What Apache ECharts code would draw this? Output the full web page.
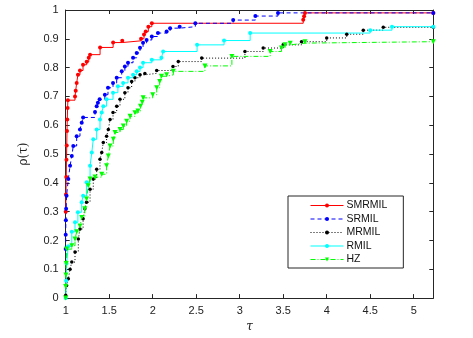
<!DOCTYPE html>
<html>
<head>
<meta charset="utf-8">
<script src="https://cdn.jsdelivr.net/npm/echarts@6/dist/echarts.min.js"></script>
<style>
  html, body { margin: 0; padding: 0; background: #fff; }
  #chart { width: 473px; height: 338px; }
</style>
</head>
<body>
<div id="chart"></div>
<script>
// performance profile data, [tau, rho]
const smrmil = [
  [1, 0.30], [1.003, 0.36], [1.006, 0.42], [1.009, 0.48], [1.012, 0.53], [1.015, 0.58],
  [1.018, 0.62], [1.022, 0.66], [1.025, 0.687], [1.107, 0.70], [1.115, 0.72], [1.126, 0.747],
  [1.141, 0.775], [1.164, 0.79], [1.199, 0.81], [1.241, 0.82], [1.265, 0.834], [1.28, 0.845],
  [1.395, 0.87], [1.545, 0.887], [1.65, 0.893], [1.866, 0.90], [1.9, 0.915], [1.92, 0.925],
  [1.95, 0.942], [1.99, 0.954], [3.73, 0.966], [3.74, 0.978], [3.75, 0.99], [5.225, 0.99]
];
const srmil = [
  [1, 0.17], [1.0, 0.22], [1.002, 0.27], [1.005, 0.31], [1.01, 0.355], [1.03, 0.413],
  [1.05, 0.459], [1.07, 0.493], [1.087, 0.528], [1.126, 0.562], [1.164, 0.585], [1.184, 0.609],
  [1.2, 0.627], [1.337, 0.646], [1.356, 0.666], [1.37, 0.678], [1.39, 0.69], [1.45, 0.706],
  [1.486, 0.73], [1.544, 0.747], [1.586, 0.765], [1.644, 0.787], [1.68, 0.804], [1.716, 0.817],
  [1.774, 0.834], [1.816, 0.851], [1.854, 0.869], [1.889, 0.886], [1.93, 0.896], [1.99, 0.908],
  [2.06, 0.92], [2.16, 0.925], [2.2, 0.937], [2.31, 0.942], [2.49, 0.954], [2.925, 0.965],
  [3.18, 0.979], [3.44, 0.99], [5.225, 0.99]
];
const mrmil = [
  [1, 0.01], [1.01, 0.044], [1.03, 0.067], [1.05, 0.10], [1.07, 0.125], [1.107, 0.16],
  [1.145, 0.205], [1.164, 0.24], [1.2, 0.275], [1.22, 0.31], [1.24, 0.333], [1.28, 0.378],
  [1.317, 0.413], [1.356, 0.447], [1.394, 0.482], [1.414, 0.505], [1.432, 0.54], [1.47, 0.562],
  [1.49, 0.585], [1.51, 0.62], [1.544, 0.644], [1.586, 0.666], [1.624, 0.69], [1.68, 0.713],
  [1.716, 0.73], [1.758, 0.752], [1.796, 0.765], [1.854, 0.775], [1.91, 0.78], [2.046, 0.79],
  [2.233, 0.804], [2.294, 0.821], [2.563, 0.833], [3.06, 0.856], [3.27, 0.868], [3.5, 0.879],
  [3.71, 0.89], [4.0, 0.903], [4.23, 0.916], [4.42, 0.93], [4.65, 0.94], [5.225, 0.94]
];
const rmil = [
  [1, 0.0], [1.005, 0.06], [1.01, 0.12], [1.03, 0.18], [1.07, 0.23], [1.107, 0.263],
  [1.14, 0.298], [1.184, 0.333], [1.2, 0.355], [1.24, 0.402], [1.28, 0.459], [1.3, 0.505],
  [1.317, 0.551], [1.356, 0.585], [1.394, 0.62], [1.414, 0.644], [1.432, 0.666], [1.47, 0.69],
  [1.544, 0.713], [1.6, 0.735], [1.66, 0.747], [1.716, 0.765], [1.774, 0.775], [1.816, 0.787],
  [1.854, 0.80], [1.889, 0.817], [1.99, 0.827], [2.1, 0.834], [2.12, 0.856], [2.51, 0.879],
  [2.82, 0.894], [3.12, 0.92], [4.5, 0.93], [4.75, 0.942], [5.225, 0.942]
];
const hz = [
  [1, 0.0], [1.0, 0.04], [1.003, 0.08], [1.006, 0.12], [1.01, 0.17], [1.07, 0.182],
  [1.107, 0.205], [1.126, 0.23], [1.164, 0.25], [1.184, 0.28], [1.22, 0.31], [1.24, 0.344],
  [1.26, 0.39], [1.28, 0.413], [1.337, 0.42], [1.414, 0.43], [1.47, 0.459], [1.49, 0.493],
  [1.51, 0.528], [1.547, 0.551], [1.567, 0.575], [1.624, 0.585], [1.662, 0.597], [1.70, 0.614],
  [1.74, 0.631], [1.796, 0.643], [1.83, 0.649], [1.86, 0.666], [1.88, 0.68], [1.89, 0.695],
  [2.0, 0.706], [2.046, 0.73], [2.08, 0.752], [2.1, 0.77], [2.16, 0.775], [2.237, 0.787],
  [2.6, 0.806], [2.91, 0.839], [3.35, 0.856], [3.48, 0.868], [3.52, 0.879], [3.58, 0.885],
  [3.75, 0.89], [5.225, 0.89]
];

const xTicks = { min: 1, max: 5.225, interval: 0.5 };
const yTicks = { min: 0, max: 1, interval: 0.1 };

const axisColor = "#262626";
const font = "'Liberation Sans', Arial, sans-serif";

function stairs(name, data, color, lineType, symbol, symbolSize) {
  return {
    name,
    type: "line",
    step: "end",
    data,
    symbol,
    symbolSize,
    symbolRotate: symbol === "triangle" ? 180 : 0,
    showAllSymbol: true,
    animation: false,
    lineStyle: { color, width: 1, type: lineType },
    itemStyle: { color, borderWidth: 0 },
    emphasis: { disabled: true },
  };
}

const chart = echarts.init(document.getElementById("chart"));
chart.setOption({
  backgroundColor: "#fff",
  animation: false,
  grid: { left: 65.7, right: 39.7, top: 10, bottom: 38.5, show: false },
  legend: {
    orient: "vertical",
    left: 288,
    top: 196,
    padding: [4, 16, 3, 22],
    itemWidth: 33,
    itemHeight: 5,
    itemGap: 2.5,
    lineStyle: { width: 1 },
    backgroundColor: "#fff",
    borderColor: axisColor,
    borderWidth: 1,
    textStyle: { fontFamily: font, fontSize: 10.5, color: "#111", padding: [0, 0, 0, -2] },
    data: ["SMRMIL", "SRMIL", "MRMIL", "RMIL", "HZ"],
  },
  xAxis: [
    {
      type: "value",
      ...xTicks,
      name: "τ",
      nameLocation: "middle",
      nameGap: 22,
      nameTextStyle: { fontFamily: "'DejaVu Serif', serif", fontStyle: "italic", fontSize: 12, color: "#222" },
      axisLine: { lineStyle: { color: axisColor } },
      axisTick: { inside: true, length: 4, lineStyle: { color: axisColor } },
      axisLabel: { showMaxLabel: false, margin: 7, fontFamily: font, fontSize: 11, color: "#222" },
      splitLine: { show: false },
    },
    {
      type: "value",
      position: "top",
      ...xTicks,
      axisLine: { onZero: false, lineStyle: { color: axisColor } },
      axisTick: { inside: true, length: 4, lineStyle: { color: axisColor } },
      axisLabel: { show: false },
      splitLine: { show: false },
    },
  ],
  yAxis: [
    {
      type: "value",
      ...yTicks,
      name: "ρ(τ)",
      nameLocation: "middle",
      nameGap: 36,
      nameTextStyle: { fontFamily: "'DejaVu Serif', serif", fontSize: 12, color: "#222" },
      axisLine: { show: true, lineStyle: { color: axisColor } },
      axisTick: { show: true, inside: true, length: 4, lineStyle: { color: axisColor } },
      axisLabel: { margin: 7, fontFamily: font, fontSize: 11, color: "#222" },
      splitLine: { show: false },
    },
    {
      type: "value",
      position: "right",
      ...yTicks,
      axisLine: { show: true, onZero: false, lineStyle: { color: axisColor } },
      axisTick: { show: true, inside: true, length: 4, lineStyle: { color: axisColor } },
      axisLabel: { show: false },
      splitLine: { show: false },
    },
  ],
  series: [
    stairs("SMRMIL", smrmil, "#ff0000", "solid", "circle", 4),
    stairs("SRMIL", srmil, "#0000ff", [4, 3], "circle", 4),
    stairs("MRMIL", mrmil, "#000000", [1, 2], "circle", 3.5),
    stairs("RMIL", rmil, "#00ffff", "solid", "circle", 4),
    stairs("HZ", hz, "#00ff00", [5, 2, 1, 2], "triangle", 5),
  ],
});
</script>
</body>
</html>
